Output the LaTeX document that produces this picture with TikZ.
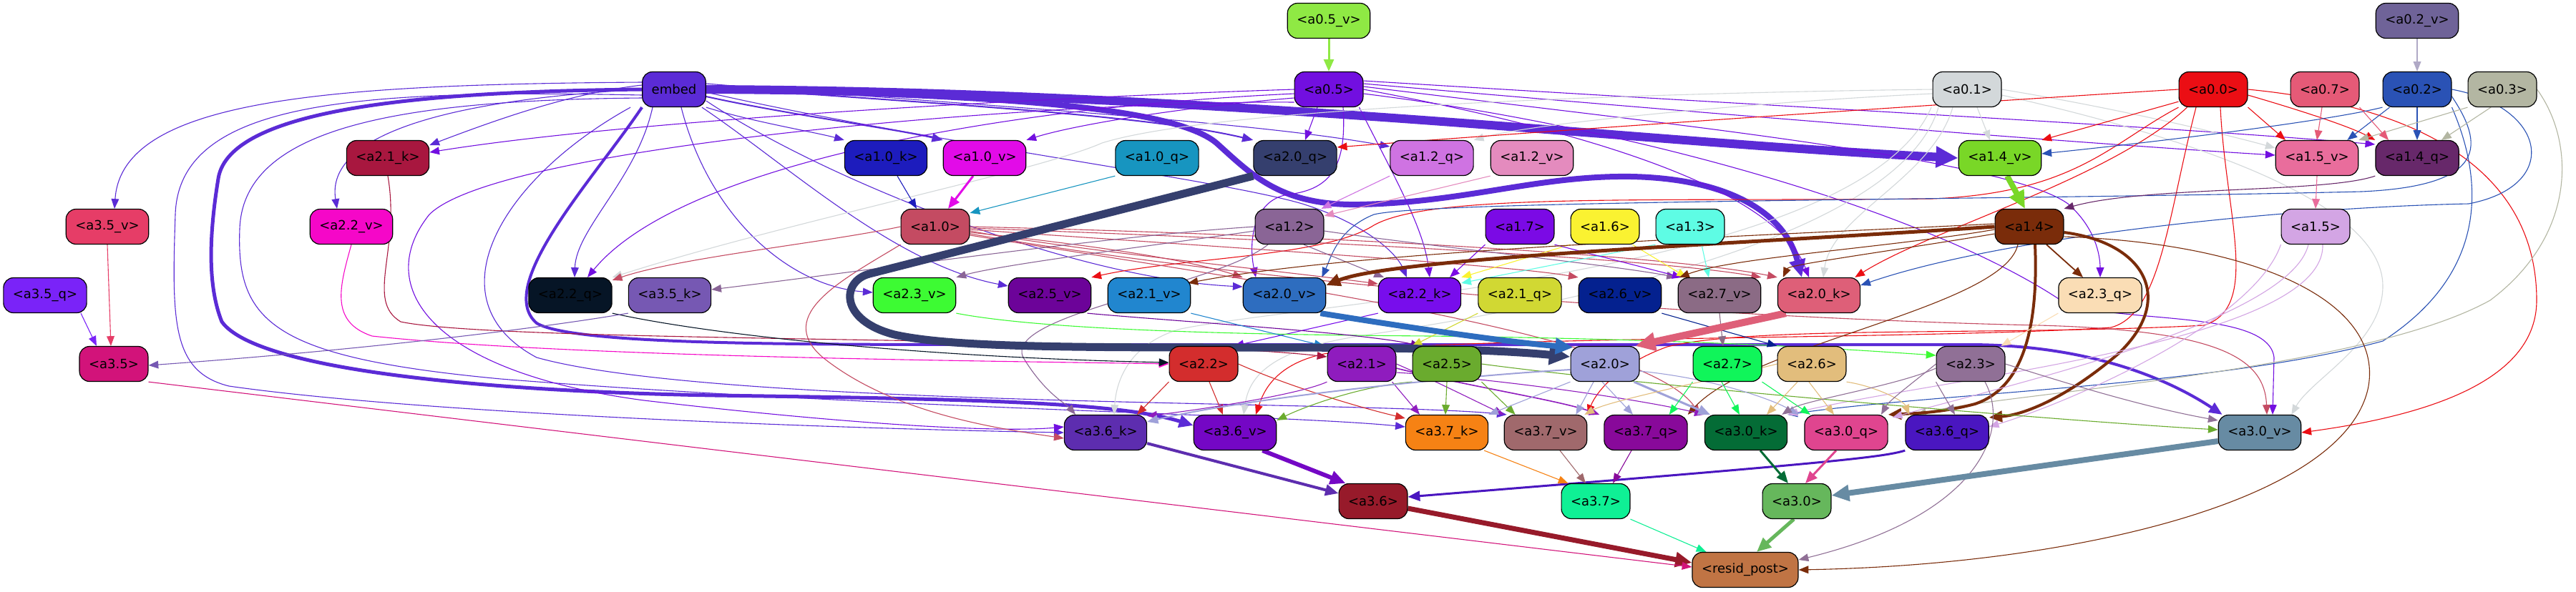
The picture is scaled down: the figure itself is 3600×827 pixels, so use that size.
\documentclass[tikz,border=0pt]{standalone}
\usepackage{fontspec}
\setmainfont{DejaVu Sans}
\usetikzlibrary{arrows.meta,backgrounds}
\definecolor{cembed}{HTML}{5B2BD6}
\definecolor{ca05v}{HTML}{8FE944}
\definecolor{ca02v}{HTML}{6F6398}
\definecolor{ca05}{HTML}{720FE0}
\definecolor{ca01}{HTML}{D3D8DA}
\definecolor{ca00}{HTML}{EB0E14}
\definecolor{ca07}{HTML}{E55A77}
\definecolor{ca02}{HTML}{2A52B5}
\definecolor{ca03}{HTML}{B3B6A2}
\definecolor{ca21k}{HTML}{A8173F}
\definecolor{ca10k}{HTML}{1D1CBD}
\definecolor{ca10v}{HTML}{E20BE8}
\definecolor{ca10q}{HTML}{1795C0}
\definecolor{ca20q}{HTML}{353F6E}
\definecolor{ca12q}{HTML}{CF73E2}
\definecolor{ca12v}{HTML}{E48BBE}
\definecolor{ca14v}{HTML}{79D727}
\definecolor{ca15v}{HTML}{E96D9C}
\definecolor{ca14q}{HTML}{67286A}
\definecolor{ca35v}{HTML}{E63D67}
\definecolor{ca22v}{HTML}{F507C8}
\definecolor{ca10}{HTML}{C44B62}
\definecolor{ca12}{HTML}{8A6596}
\definecolor{ca17}{HTML}{7B0AE5}
\definecolor{ca16}{HTML}{FAF231}
\definecolor{ca13}{HTML}{5EFCE4}
\definecolor{ca14}{HTML}{7A2C0A}
\definecolor{ca15}{HTML}{D3A5E4}
\definecolor{ca35q}{HTML}{7A23F8}
\definecolor{ca22q}{HTML}{061526}
\definecolor{ca35k}{HTML}{7658B3}
\definecolor{ca23v}{HTML}{3DFB33}
\definecolor{ca25v}{HTML}{6C0399}
\definecolor{ca21v}{HTML}{2186CF}
\definecolor{ca20v}{HTML}{2E6DBF}
\definecolor{ca22k}{HTML}{780DEC}
\definecolor{ca21q}{HTML}{D1D833}
\definecolor{ca26v}{HTML}{04218F}
\definecolor{ca27v}{HTML}{8B6B85}
\definecolor{ca20k}{HTML}{DE5F78}
\definecolor{ca23q}{HTML}{FADDB5}
\definecolor{ca35}{HTML}{D2137A}
\definecolor{ca22}{HTML}{D32D2D}
\definecolor{ca21}{HTML}{8F1CBE}
\definecolor{ca25}{HTML}{6AAB2E}
\definecolor{ca20}{HTML}{9FA1D9}
\definecolor{ca27}{HTML}{10F55A}
\definecolor{ca26}{HTML}{E2BD7C}
\definecolor{ca23}{HTML}{907096}
\definecolor{ca36k}{HTML}{5D2DAF}
\definecolor{ca36v}{HTML}{7407C5}
\definecolor{ca37k}{HTML}{F68214}
\definecolor{ca37v}{HTML}{A0696C}
\definecolor{ca37q}{HTML}{88099A}
\definecolor{ca30k}{HTML}{046C36}
\definecolor{ca30q}{HTML}{E0458F}
\definecolor{ca36q}{HTML}{4A16C0}
\definecolor{ca30v}{HTML}{678BA3}
\definecolor{ca36}{HTML}{971A2A}
\definecolor{ca37}{HTML}{0FF095}
\definecolor{ca30}{HTML}{66B75C}
\definecolor{cresid}{HTML}{C07444}
\begin{document}
\begin{tikzpicture}[x=0.5pt,y=-0.5pt,
 nd/.style={draw=black,fill=#1,rounded corners=7pt,line width=0.6pt,minimum height=24.5pt,inner xsep=6.5pt,inner ysep=2pt,font=\fontsize{9}{10.8}\selectfont},
 E/.style={draw=#1,line width=0.55pt,-{Triangle[length=6pt 1.6,width=4.5pt 1.6]}}]
\useasboundingbox (0,0) rectangle (3600,827);
% ---------- nodes
\node[nd=ca05v] (a05v) at (1857,29) {<a0.5\_v>};
\node[nd=ca02v] (a02v) at (3378,29) {<a0.2\_v>};
\node[nd=cembed] (embed) at (942,125) {embed};
\node[nd=ca05] (a05) at (1857,125) {<a0.5>};
\node[nd=ca01] (a01) at (2749,125) {<a0.1>};
\node[nd=ca00] (a00) at (3093,125) {<a0.0>};
\node[nd=ca07] (a07) at (3249,125) {<a0.7>};
\node[nd=ca02] (a02) at (3378,125) {<a0.2>};
\node[nd=ca03] (a03) at (3497,125) {<a0.3>};
\node[nd=ca21k] (a21k) at (542,221) {<a2.1\_k>};
\node[nd=ca10k] (a10k) at (1238,221) {<a1.0\_k>};
\node[nd=ca10v] (a10v) at (1376,221) {<a1.0\_v>};
\node[nd=ca10q] (a10q) at (1617,221) {<a1.0\_q>};
\node[nd=ca20q] (a20q) at (1810,221) {<a2.0\_q>};
\node[nd=ca12q] (a12q) at (2001,221) {<a1.2\_q>};
\node[nd=ca12v] (a12v) at (2141,221) {<a1.2\_v>};
\node[nd=ca14v] (a14v) at (2795,221) {<a1.4\_v>};
\node[nd=ca15v] (a15v) at (3238,221) {<a1.5\_v>};
\node[nd=ca14q] (a14q) at (3378,221) {<a1.4\_q>};
\node[nd=ca35v] (a35v) at (150,317) {<a3.5\_v>};
\node[nd=ca22v] (a22v) at (491,317) {<a2.2\_v>};
\node[nd=ca10] (a10) at (1307,317) {<a1.0>};
\node[nd=ca12] (a12) at (1802,317) {<a1.2>};
\node[nd=ca17] (a17) at (2124,317) {<a1.7>};
\node[nd=ca16] (a16) at (2243,317) {<a1.6>};
\node[nd=ca13] (a13) at (2362,317) {<a1.3>};
\node[nd=ca14] (a14) at (2836,317) {<a1.4>};
\node[nd=ca15] (a15) at (3236,317) {<a1.5>};
\node[nd=ca35q] (a35q) at (63,413) {<a3.5\_q>};
\node[nd=ca22q] (a22q) at (797,413) {<a2.2\_q>};
\node[nd=ca35k] (a35k) at (936,413) {<a3.5\_k>};
\node[nd=ca23v] (a23v) at (1278,413) {<a2.3\_v>};
\node[nd=ca25v] (a25v) at (1467,413) {<a2.5\_v>};
\node[nd=ca21v] (a21v) at (1606,413) {<a2.1\_v>};
\node[nd=ca20v] (a20v) at (1795,413) {<a2.0\_v>};
\node[nd=ca22k] (a22k) at (1984,413) {<a2.2\_k>};
\node[nd=ca21q] (a21q) at (2124,413) {<a2.1\_q>};
\node[nd=ca26v] (a26v) at (2264,413) {<a2.6\_v>};
\node[nd=ca27v] (a27v) at (2403,413) {<a2.7\_v>};
\node[nd=ca20k] (a20k) at (2542,413) {<a2.0\_k>};
\node[nd=ca23q] (a23q) at (2935,413) {<a2.3\_q>};
\node[nd=ca35] (a35) at (159,509) {<a3.5>};
\node[nd=ca22] (a22) at (1682,509) {<a2.2>};
\node[nd=ca21] (a21) at (1903,509) {<a2.1>};
\node[nd=ca25] (a25) at (2022,509) {<a2.5>};
\node[nd=ca20] (a20) at (2243,509) {<a2.0>};
\node[nd=ca27] (a27) at (2414,509) {<a2.7>};
\node[nd=ca26] (a26) at (2532,509) {<a2.6>};
\node[nd=ca23] (a23) at (2754,509) {<a2.3>};
\node[nd=ca36k] (a36k) at (1545,605) {<a3.6\_k>};
\node[nd=ca36v] (a36v) at (1726,605) {<a3.6\_v>};
\node[nd=ca37k] (a37k) at (2022,605) {<a3.7\_k>};
\node[nd=ca37v] (a37v) at (2160,605) {<a3.7\_v>};
\node[nd=ca37q] (a37q) at (2300,605) {<a3.7\_q>};
\node[nd=ca30k] (a30k) at (2440,605) {<a3.0\_k>};
\node[nd=ca30q] (a30q) at (2580,605) {<a3.0\_q>};
\node[nd=ca36q] (a36q) at (2721,605) {<a3.6\_q>};
\node[nd=ca30v] (a30v) at (3158,605) {<a3.0\_v>};
\node[nd=ca36] (a36) at (1919,701) {<a3.6>};
\node[nd=ca37] (a37) at (2230,701) {<a3.7>};
\node[nd=ca30] (a30) at (2511,701) {<a3.0>};
\node[nd=cresid] (resid) at (2439,797) {<resid\_post>};
% ---------- edges
\begin{pgfonlayer}{background}
\fill[white] (0,0) rectangle (3600,827);
% layer 0 inputs
\draw[E=ca05v,line width=1.5pt] (a05v) -- (a05);
\draw[E=ca02v!55] (a02v) -- (a02);
% embed
\draw[E=cembed,line width=6pt] (embed.east) .. controls (1700,128) and (2300,200) .. (a14v.west);
\draw[E=cembed,line width=4pt] (embed.east) .. controls (1400,132) and (1640,150) .. (1700,200) .. controls (1750,245) and (1790,288) .. (1900,286) .. controls (2050,283) and (2150,245) .. (2280,247) .. controls (2420,250) and (2495,300) .. ([xshift=-12pt]a20k.north);
\draw[E=cembed,line width=2.5pt] (embed.west) .. controls (600,128) and (320,150) .. (305,250) .. controls (292,330) and (290,400) .. (310,450) .. controls (360,520) and (700,548) .. (1000,553) .. controls (1350,558) and (1560,562) .. ([yshift=5pt]a36v.west);
\draw[E=cembed,line width=2pt] (embed.south west) .. controls (830,250) and (690,400) .. (750,452) .. controls (800,482) and (1100,482) .. (1400,482) -- (2750,482) .. controls (2920,482) and (3030,530) .. ([xshift=3pt]a30v.north west);
\draw[E=cembed] ([yshift=3pt]embed.west) .. controls (800,130) and (700,165) .. ([yshift=9pt]a21k.east);
\draw[E=cembed] ([yshift=5pt]embed.west) .. controls (450,118) and (170,140) .. ([xshift=5pt]a35v.north);
\draw[E=cembed] (embed.west) .. controls (620,140) and (455,190) .. ([xshift=-10pt]a22v.north);
\draw[E=cembed] ([xshift=-15pt]embed.south) .. controls (890,250) and (805,320) .. ([xshift=3pt]a22q.north);
\draw[E=cembed] (embed.south east) .. controls (1050,170) and (1140,185) .. (a10k.north west);
\draw[E=cembed,line width=1pt] ([yshift=-5pt]embed.east) .. controls (1100,160) and (1250,180) .. (a10v.north west);
\draw[E=cembed,line width=1pt] ([yshift=2pt]embed.east) .. controls (1300,145) and (1600,160) .. (a20q.north west);
\draw[E=cembed] ([yshift=4pt]embed.east) .. controls (1400,150) and (1750,170) .. ([yshift=8pt]a12q.west);
\draw[E=cembed] ([xshift=5pt]embed.south) .. controls (990,300) and (1100,400) .. ([yshift=2pt]a23v.west);
\draw[E=cembed] ([xshift=-3pt]embed.south east) .. controls (1100,230) and (1250,370) .. ([yshift=6.5pt]a25v.west);
\draw[E=cembed] ([yshift=-8pt]embed.east) .. controls (1150,250) and (1500,390) .. ([yshift=6pt]a20v.west);
\draw[E=cembed] ([yshift=-2pt]embed.east) .. controls (1300,200) and (1700,250) .. (1820,285) .. controls (1900,310) and (1950,350) .. ([xshift=-9pt]a22k.north);
\draw[E=cembed] ([yshift=-4pt]embed.west) .. controls (500,125) and (250,140) .. (245,300) .. controls (240,450) and (240,520) .. (320,540) .. controls (600,580) and (1200,600) .. (a36k.west);
\draw[E=cembed] ([yshift=-6pt]embed.west) .. controls (550,140) and (340,180) .. (335,320) .. controls (330,450) and (380,500) .. (700,530) .. controls (1200,570) and (1800,580) .. ([yshift=4pt]a37k.west);
\draw[E=cembed] ([xshift=-8pt]embed.south west) .. controls (700,250) and (600,420) .. (750,500) .. controls (1000,570) and (1900,560) .. ([xshift=2pt]a37v.north west);
% a0.5
\draw[E=ca05] (a05.west) .. controls (1500,135) and (900,165) .. ([yshift=4pt]a21k.east);
\draw[E=ca05] ([yshift=-3pt]a05.west) .. controls (1400,150) and (950,230) .. ([xshift=12pt]a22q.north);
\draw[E=ca05] ([yshift=-6pt]a05.west) .. controls (1650,150) and (1500,175) .. (a10v.north east);
\draw[E=ca05] ([xshift=-8pt]a05.south) -- ([xshift=7pt]a20q.north);
\draw[E=ca05] ([yshift=4pt]a05.east) .. controls (2400,160) and (2900,200) .. ([yshift=2pt]a15v.west);
\draw[E=ca05] ([yshift=6pt]a05.east) .. controls (2500,150) and (3000,175) .. ([yshift=-3pt]a14q.north west);
\draw[E=ca05] ([yshift=2pt]a05.east) .. controls (2300,170) and (2800,220) .. (2890,285) .. controls (2930,320) and (2935,360) .. (a23q.north);
\draw[E=ca05] ([xshift=10pt]a05.south) .. controls (1882,230) and (1862,265) .. (1800,272) .. controls (1750,280) and (1745,340) .. ([xshift=-20pt]a20v.north);
\draw[E=ca05] ([xshift=-3pt]a05.south east) .. controls (1950,250) and (1990,320) .. ([xshift=7pt]a22k.north);
\draw[E=ca05] (a05.east) .. controls (2200,180) and (2480,260) .. ([xshift=-7pt]a20k.north);
\draw[E=ca05] ([yshift=-3pt]a05.east) .. controls (2300,180) and (2700,300) .. (2880,420) .. controls (2950,455) and (3170,430) .. (3178,500) -- ([xshift=9pt]a30v.north);
\draw[E=ca05] ([yshift=-9pt]a05.west) .. controls (1500,140) and (700,200) .. (600,300) .. controls (520,400) and (600,520) .. (900,560) .. controls (1200,595) and (1400,605) .. ([yshift=4pt]a36k.west);
% a0.1
\draw[E=ca01] (a01.west) .. controls (2300,130) and (1700,150) .. (1540,200) .. controls (1450,240) and (1100,310) .. (a22q.north east);
\draw[E=ca01] ([yshift=-3pt]a01.west) .. controls (2500,140) and (2150,170) .. (a12q.north east);
\draw[E=ca01] ([xshift=7pt]a01.south) -- ([xshift=-7pt]a14v.north);
\draw[E=ca01] (a01.east) .. controls (2950,150) and (3100,185) .. ([yshift=7pt]a15v.west);
\draw[E=ca01] ([xshift=-10pt]a01.south) .. controls (2700,250) and (2560,300) .. ([xshift=3pt]a20k.north);
\draw[E=ca01] ([xshift=-20pt]a01.south) .. controls (2650,350) and (2100,440) .. (1900,470) .. controls (1770,490) and (1745,530) .. ([xshift=6pt]a36v.north);
\draw[E=ca01] ([xshift=-25pt]a01.south) .. controls (2600,380) and (1850,420) .. (1650,460) .. controls (1580,480) and (1560,530) .. ([xshift=6pt]a36k.north);
\draw[E=ca01] ([yshift=-4pt]a01.east) .. controls (3050,190) and (3330,280) .. (3330,400) .. controls (3330,480) and (3230,530) .. ([xshift=-7pt]a30v.north east);
% a0.0
\draw[E=ca00] (a00.west) .. controls (2800,140) and (2200,180) .. ([yshift=-5pt]a20q.north east);
\draw[E=ca00] ([yshift=4pt]a00.south west) -- (a14v.north east);
\draw[E=ca00] (a00.south east) -- ([xshift=-22pt]a15v.north);
\draw[E=ca00] ([yshift=-4pt]a00.east) .. controls (3200,150) and (3280,175) .. (a14q.north west);
\draw[E=ca00] (a00.south west) .. controls (2950,200) and (2900,270) .. (2700,278) .. controls (2300,282) and (2000,270) .. (1920,315) .. controls (1850,360) and (1650,360) .. (a25v.north east);
\draw[E=ca00] ([xshift=6pt]a00.south west) .. controls (2950,250) and (2700,320) .. ([xshift=-4pt]a20k.north east);
\draw[E=ca00] ([xshift=-12pt]a00.south) .. controls (3030,300) and (3020,440) .. (2950,458) .. controls (2700,475) and (2000,470) .. (1850,495) .. controls (1780,510) and (1765,550) .. ([xshift=14.5pt]a36v.north);
\draw[E=ca00] ([xshift=5pt]a00.south) .. controls (3110,300) and (3160,430) .. (3080,455) .. controls (2800,470) and (2450,455) .. (2330,485) .. controls (2260,510) and (2230,550) .. (a37v.north east);
\draw[E=ca00] (a00.east) .. controls (3400,150) and (3545,250) .. (3545,420) .. controls (3545,530) and (3400,580) .. (a30v.east);
% a0.2 / a0.3 / a0.7
\draw[E=ca02] (a02.south west) .. controls (3250,170) and (3000,200) .. ([yshift=3pt]a14v.east);
\draw[E=ca02] ([xshift=5pt]a02.south west) -- ([xshift=-8pt]a15v.north east);
\draw[E=ca02] (a02) -- (a14q);
\draw[E=ca02] (a02.east) .. controls (3560,150) and (3580,260) .. (3450,285) .. controls (3200,290) and (2800,330) .. ([yshift=7pt]a20k.east);
\draw[E=ca02] ([yshift=-5pt]a02.east) .. controls (3470,200) and (3480,260) .. (3300,268) .. controls (2800,280) and (2000,280) .. (1920,300) .. controls (1870,320) and (1860,360) .. ([xshift=-3pt]a20v.north east);
\draw[E=ca02] (a02.south east) .. controls (3470,250) and (3480,380) .. (3330,477) .. controls (3100,540) and (2700,550) .. (a30k.north east);
\draw[E=ca03] (a03.south west) -- (a15v.north east);
\draw[E=ca03] ([xshift=-8pt]a03.south) -- ([xshift=17pt]a14q.north);
\draw[E=ca03] (a03.east) .. controls (3600,200) and (3600,330) .. (3480,420) .. controls (3300,520) and (2800,550) .. ([xshift=8pt]a36q.north west);
\draw[E=ca07] ([xshift=-2pt]a07.south) -- (a15v.north);
\draw[E=ca07] (a07.south east) -- ([xshift=-20pt]a14q.north);
% layer 1 internal
\draw[E=ca10k] ([xshift=8pt]a10k.south) -- ([xshift=-13pt]a10.north);
\draw[E=ca10v,line width=1.5pt] ([xshift=-8pt]a10v.south) -- ([xshift=9pt]a10.north);
\draw[E=ca10q] (a10q.south west) -- ([yshift=-3pt]a10.north east);
\draw[E=ca12q] (a12q.south west) -- ([xshift=-2pt]a12.north east);
\draw[E=ca12v] (a12v.south west) -- ([yshift=-5pt]a12.north east);
\draw[E=ca14v,line width=4pt] ([xshift=5pt]a14v.south) -- ([xshift=-3pt]a14.north);
\draw[E=ca14q] (a14q.south west) .. controls (3250,270) and (3000,260) .. (a14.north east);
\draw[E=ca15v] (a15v.south) -- (a15.north);
% a1.0
\draw[E=ca10] ([yshift=-4pt]a10.east) .. controls (1500,340) and (1650,360) .. (a20v.north west);
\draw[E=ca10] ([yshift=-3pt]a10.east) .. controls (1500,350) and (1800,380) .. ([yshift=8pt]a22k.west);
\draw[E=ca10] ([yshift=-2pt]a10.east) .. controls (1700,345) and (2100,370) .. (a26v.north west);
\draw[E=ca10] ([yshift=-1pt]a10.east) .. controls (1800,335) and (2300,360) .. (a27v.north east);
\draw[E=ca10] (a10.east) .. controls (1900,330) and (2350,360) .. (a20k.north west);
\draw[E=ca10] ([yshift=-6pt]a10.east) .. controls (1800,400) and (2300,470) .. ([xshift=-3pt]a30k.north west);
\draw[E=ca10] ([yshift=-5pt]a10.east) .. controls (1900,420) and (2600,450) .. (2850,455) .. controls (3100,462) and (3165,500) .. ([xshift=5pt]a30v.north);
\draw[E=ca10] (a10.south west) .. controls (1180,390) and (1080,440) .. (1150,500) .. controls (1250,580) and (1400,600) .. ([yshift=-4pt]a36k.west);
\draw[E=ca10] (a10.west) .. controls (1150,340) and (950,360) .. ([yshift=-2pt]a22q.north east);
% a1.2
\draw[E=ca12] (a12.west) .. controls (1550,330) and (1200,380) .. ([yshift=4pt]a35k.east);
\draw[E=ca12] ([yshift=-3pt]a12.west) .. controls (1600,345) and (1400,370) .. (a23v.north east);
\draw[E=ca12] ([xshift=-15pt]a12.south) .. controls (1700,400) and (1400,440) .. (1430,500) .. controls (1460,550) and (1490,565) .. ([xshift=-21pt]a36k.north);
\draw[E=ca12] ([xshift=10pt]a12.south) -- ([xshift=-25pt]a22k.north);
\draw[E=ca12] ([yshift=-3pt]a12.east) .. controls (2000,345) and (2250,370) .. ([xshift=-30pt]a27v.north);
% a1.7 a1.6 a1.3
\draw[E=ca17] (a17.south west) -- ([xshift=21pt]a22k.north);
\draw[E=ca16] (a16.south west) -- (a22k.north east);
\draw[E=ca13] (a13.south west) -- ([yshift=-4pt]a22k.north east);
\draw[E=ca17] (a17.south east) -- ([xshift=3pt]a27v.north west);
\draw[E=ca16] ([xshift=-5pt]a16.south east) -- ([xshift=-23pt]a27v.north);
\draw[E=ca13] ([xshift=8pt]a13.south) -- ([xshift=-7.5pt]a27v.north);
% a1.4
\draw[E=ca14,line width=2.5pt] (a14.west) .. controls (2450,340) and (1950,360) .. ([yshift=7pt]a20v.east);
\draw[E=ca14] ([yshift=2pt]a14.west) .. controls (2450,330) and (1900,350) .. ([xshift=-2pt,yshift=-4pt]a21v.north east);
\draw[E=ca14] ([yshift=-2pt]a14.west) .. controls (2650,345) and (2420,360) .. ([xshift=-28pt]a27v.north);
\draw[E=ca14] ([yshift=-5pt]a14.west) .. controls (2650,350) and (2500,370) .. ([xshift=4pt]a20k.north west);
\draw[E=ca14,line width=0.9pt] ([xshift=12pt]a14.south) -- ([xshift=-12pt]a23q.north);
\draw[E=ca14,line width=2pt] ([xshift=4pt]a14.south) .. controls (2848,440) and (2835,540) .. (2760,565) .. controls (2710,578) and (2675,578) .. (a30q.north east);
\draw[E=ca14,line width=2pt] ([yshift=-4pt]a14.east) .. controls (3000,340) and (3040,420) .. (2960,495) .. controls (2890,555) and (2830,580) .. ([yshift=-2pt]a36q.north east);
\draw[E=ca14] ([xshift=-8pt]a14.south) .. controls (2800,430) and (2450,480) .. (a37q.north east);
\draw[E=ca14] ([yshift=-7pt]a14.east) .. controls (3150,340) and (3330,420) .. (3310,540) .. controls (3280,700) and (2900,790) .. (resid.east);
% a1.5
\draw[E=ca15] (a15.south west) .. controls (3150,450) and (2900,560) .. ([yshift=4pt]a36q.east);
\draw[E=ca15] ([xshift=-5pt]a15.south) .. controls (3200,450) and (2800,540) .. ([xshift=3pt,yshift=-2pt]a30q.north east);
\draw[E=ca15] ([xshift=5pt]a15.south) .. controls (3250,480) and (2700,530) .. (a30k.north east);
% layer 2 heads
\draw[E=ca21k] (a21k.south) .. controls (560,350) and (510,420) .. (560,450) .. controls (700,480) and (1600,470) .. ([yshift=5pt]a21.west);
\draw[E=ca22v] (a22v.south) .. controls (475,400) and (460,450) .. (520,470) .. controls (800,500) and (1400,505) .. (a22.west);
\draw[E=ca22q] (a22q.south east) .. controls (1000,470) and (1300,500) .. ([yshift=1pt]a22.west);
\draw[E=ca22k] (a22k.south west) -- ([xshift=-3pt]a22.north east);
\draw[E=ca35q] ([xshift=25pt]a35q.south) -- ([xshift=-12pt]a35.north);
\draw[E=ca35v] (a35v.south) -- ([xshift=-2pt]a35.north);
\draw[E=ca35k] (a35k.south west) .. controls (750,460) and (500,490) .. ([yshift=-1pt]a35.east);
\draw[E=ca23v] (a23v.south east) .. controls (1450,460) and (1700,468) .. (2000,470) .. controls (2400,475) and (2600,490) .. ([yshift=6pt]a23.west);
\draw[E=ca25v] ([xshift=-3pt]a25v.south east) .. controls (1650,450) and (1900,465) .. ([xshift=6pt]a25.north west);
\draw[E=ca21v] (a21v.south east) -- ([xshift=-2pt]a21.north west);
\draw[E=ca21q] (a21q.south west) -- (a25.north west);
\draw[E=ca26v] (a26v.south east) -- (a26.north west);
\draw[E=ca27v] (a27v.south) -- ([xshift=-3pt]a27.north);
\draw[E=ca23q] (a23q.south west) -- ([xshift=-3pt]a23.north east);
\draw[E=ca20q,line width=5.5pt] (a20q.south west) -- (1215,383) .. controls (1176,393) and (1172,448) .. (1250,468) .. controls (1330,486) and (1500,486) .. (1750,486) .. controls (2000,486) and (2100,490) .. ([yshift=5pt]a20.west);
\draw[E=ca20v,line width=4pt] ([xshift=-4pt]a20v.south east) .. controls (1950,455) and (2100,478) .. ([xshift=2pt,yshift=-1pt]a20.north west);
\draw[E=ca20k,line width=5pt] ([xshift=6pt]a20k.south west) -- ([xshift=-3pt]a20.north east);
% layer 2 outputs
\draw[E=ca22] (a22.south west) -- ([xshift=22pt]a36k.north);
\draw[E=ca22] ([xshift=4pt]a22.south) -- ([xshift=-8.5pt]a36v.north);
\draw[E=ca22] (a22.east) .. controls (1800,540) and (1900,570) .. ([yshift=10pt]a37k.west);
\draw[E=ca21] ([xshift=-3pt]a21.south east) -- ([xshift=-19pt]a37k.north);
\draw[E=ca21] (a21.east) .. controls (2000,530) and (2060,560) .. (a37v.north west);
\draw[E=ca21,line width=0.8pt] ([yshift=-3pt]a21.east) .. controls (2050,540) and (2180,560) .. ([xshift=-3pt]a37q.north west);
\draw[E=ca21] ([yshift=-6pt]a21.east) .. controls (2100,530) and (2300,560) .. (a30k.north west);
\draw[E=ca21] (a21.south west) .. controls (1820,550) and (1700,570) .. ([yshift=-1pt]a36k.north east);
\draw[E=ca25] (a25.south west) .. controls (1900,540) and (1820,570) .. ([yshift=-4pt]a36v.north east);
\draw[E=ca25] (a25.south) -- ([xshift=-1pt]a37k.north);
\draw[E=ca25] (a25.south east) -- ([xshift=8pt]a37v.north west);
\draw[E=ca25] (a25.east) .. controls (2300,540) and (2900,590) .. ([yshift=2pt]a30v.west);
\draw[E=ca20,line width=1pt] ([yshift=-4pt]a20.west) .. controls (2050,525) and (1750,555) .. ([yshift=-5pt]a36k.north east);
\draw[E=ca20] (a20.south west) -- (a37k.north east);
\draw[E=ca20] ([xshift=-8pt]a20.south) -- ([xshift=-8pt]a37v.north east);
\draw[E=ca20] ([xshift=-2pt]a20.south) -- ([xshift=-9pt]a37q.north);
\draw[E=ca20,line width=1.5pt] ([xshift=-4pt]a20.south east) -- ([xshift=-25pt]a30k.north);
\draw[E=ca20] ([yshift=-5pt]a20.east) .. controls (2400,530) and (2480,560) .. ([xshift=-4pt]a30q.north west);
\draw[E=ca27] (a27.south west) -- ([xshift=-13pt]a37q.north east);
\draw[E=ca27] ([xshift=-4pt]a27.south) -- ([xshift=-4.5pt]a30k.north);
\draw[E=ca27] (a27.south east) -- ([xshift=-25pt]a30q.north);
\draw[E=ca26] (a26.west) .. controls (2400,530) and (2250,560) .. ([xshift=-2pt]a37v.north east);
\draw[E=ca26] ([xshift=-10pt]a26.south) -- ([xshift=14.5pt]a30k.north);
\draw[E=ca26] ([xshift=-2pt]a26.south) -- ([xshift=-8.5pt]a30q.north);
\draw[E=ca26] (a26.south east) .. controls (2620,540) and (2660,560) .. ([xshift=3pt]a36q.north west);
\draw[E=ca23] (a23.south west) -- ([xshift=5.5pt]a36q.north);
\draw[E=ca23] (a23.west) .. controls (2680,530) and (2640,560) .. ([xshift=24.5pt]a30q.north);
\draw[E=ca23] ([yshift=-3pt]a23.west) .. controls (2650,540) and (2520,560) .. ([xshift=-4pt]a30k.north east);
\draw[E=ca23] (a23.east) .. controls (2900,540) and (3000,570) .. ([yshift=8.5pt]a30v.west);
\draw[E=ca23] ([xshift=10pt]a23.south) .. controls (2810,600) and (2770,720) .. ([yshift=7pt]resid.east);
% layer 3
\draw[E=ca36v,line width=3pt] ([xshift=-10pt]a36v.south east) -- ([xshift=5pt]a36.north west);
\draw[E=ca36k,line width=2pt] ([yshift=5pt]a36k.south east) -- ([yshift=5.5pt]a36.west);
\draw[E=ca36q,line width=1.5pt] (a36q.south west) .. controls (2630,640) and (2550,648) .. ([yshift=3pt]a36.east);
\draw[E=ca37k] ([xshift=-3pt]a37k.south east) -- ([xshift=5pt]a37.north west);
\draw[E=ca37v] ([xshift=10pt]a37v.south) -- ([xshift=-7pt]a37.north);
\draw[E=ca37q] ([xshift=-10pt]a37q.south) -- ([xshift=12pt]a37.north);
\draw[E=ca30k,line width=1.5pt] ([xshift=10pt]a30k.south) -- ([xshift=-6pt]a30.north);
\draw[E=ca30q,line width=1.5pt] ([xshift=-7pt]a30q.south) -- ([xshift=6pt]a30.north);
\draw[E=ca30v,line width=4pt] ([yshift=-6pt]a30v.west) -- ([yshift=4pt]a30.east);
% final
\draw[E=ca36,line width=3.5pt] ([yshift=-5pt]a36.east) -- ([yshift=5pt]resid.west);
\draw[E=ca30,line width=2.5pt] ([xshift=-2pt]a30.south) -- ([xshift=8pt]resid.north);
\draw[E=ca37] (a37.south east) -- ([xshift=10pt]resid.north west);
\draw[E=ca35] (a35.south east) -- ([yshift=2pt]resid.west);
\end{pgfonlayer}
\end{tikzpicture}
\end{document}
